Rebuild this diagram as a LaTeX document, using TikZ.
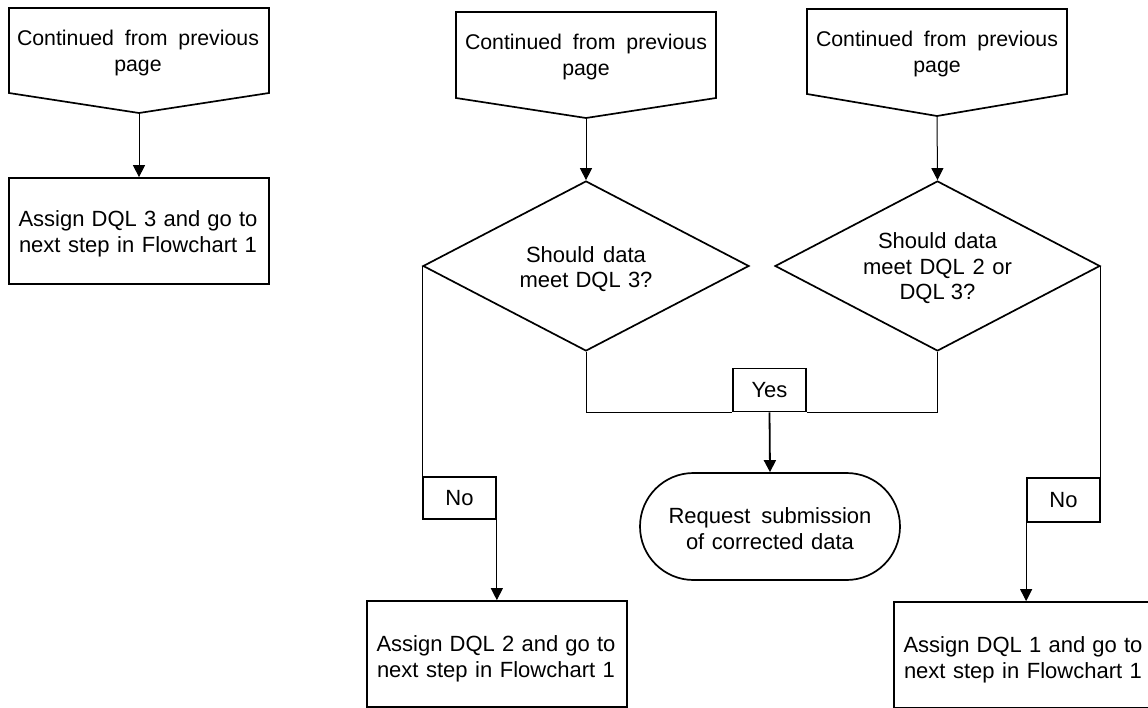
\documentclass[tikz,border=0pt]{standalone}
\usepackage{fontspec}
\setmainfont{Liberation Sans}
\usetikzlibrary{arrows.meta,shapes.geometric,shapes.misc}
\newcommand{\jline}[2]{\makebox[#1][s]{#2}}
\begin{document}
\begin{tikzpicture}[x=1pt,y=-1pt,
  every node/.style={font=\fontsize{22}{25.5}\selectfont},
  shp/.style={draw, line width=1.7pt},
  box/.style={shp, rectangle, minimum width=260pt, minimum height=106pt, inner sep=0pt},
  txt/.style={align=center, inner sep=0pt},
  offtxt/.style={txt, font=\fontsize{21.3}{25.5}\selectfont},
  lab/.style={shp, rectangle, inner sep=0pt},
  dia/.style={shp, diamond, aspect=1.92, minimum width=326pt, minimum height=170pt, inner sep=0pt},
  term/.style={shp, rounded rectangle, minimum width=260pt, minimum height=107pt, inner sep=0pt},
  conn/.style={line width=1pt},
  arr/.style={conn, -{Triangle[length=12pt,width=12pt]}}
]
\useasboundingbox (0,0) rectangle (1148,708);
\clip (0,0) rectangle (1148,708);

% off-page connectors
\draw[shp] (9,8) -- (269,8) -- (269,93) -- (139,113) -- (9,93) -- cycle;
\coordinate (p1) at (139,113);
\node[offtxt] (c1) at (138,53) {\jline{242pt}{Continued from previous}\\page};

\draw[shp] (456,12) -- (716,12) -- (716,98) -- (586,118) -- (456,98) -- cycle;
\coordinate (p2) at (586,118);
\node[offtxt] (c2) at (586,57) {\jline{242pt}{Continued from previous}\\page};

\draw[shp] (807,9) -- (1067,9) -- (1067,94) -- (937,116) -- (807,94) -- cycle;
\coordinate (p3) at (937,116);
\node[offtxt] (c3) at (937,54) {\jline{242pt}{Continued from previous}\\page};

% process boxes
\node[box] (a3) at (139,231) {};
\node[txt] (a3t) at (138,234) {\jline{239pt}{Assign DQL 3 and go to}\\\jline{238pt}{next step in Flowchart 1}};
\node[box] (a2) at (497,654) {};
\node[txt] (a2t) at (496,659) {\jline{239pt}{Assign DQL 2 and go to}\\\jline{238pt}{next step in Flowchart 1}};
\node[box] (a1) at (1024,655) {};
\node[txt] (a1t) at (1023,660) {\jline{239pt}{Assign DQL 1 and go to}\\\jline{238pt}{next step in Flowchart 1}};

% decisions
\node[dia] (d1) at (586,266) {};
\node[txt] (d1t) at (586,269) {\jline{120pt}{Should data}\\\jline{133pt}{meet DQL 3?}};
\node[dia, minimum width=325pt] (d2) at (937.5,266) {};
\node[txt] (d2t) at (937.5,268.5) {\jline{119pt}{Should data}\\\jline{149pt}{meet DQL 2 or}\\DQL 3?};

% labels
\node[lab, minimum width=73pt, minimum height=43pt] (yes) at (769.5,390) {Yes};
\node[lab, minimum width=73pt, minimum height=42pt] (no1) at (459.5,498) {No};
\node[lab, minimum width=73pt, minimum height=44pt] (no2) at (1063.5,500) {No};

% terminal
\node[term] (rq) at (770,526.5) {};
\node[txt] (rqt) at (770,528.5) {\jline{203pt}{Request submission}\\\jline{168pt}{of corrected data}};

% connectors
\draw[arr] (p1) -- (a3.north);
\draw[arr] (p2) -- (d1.north);
\draw[arr] (p3) -- (d2.north);
\draw[conn] (d1.west) -- (no1.north west);
\draw[arr] (no1.south east) -- (no1.south east |- a2.north);
\draw[conn] (d1.south) |- (yes.south west);
\draw[conn] (d2.south) |- (yes.south east);
\draw[arr, line width=1.8pt] (yes.south) -- (rq.north);
\draw[conn] (d2.east) -- (no2.north east);
\draw[arr] (no2.south west) -- (no2.south west |- a1.north);
\end{tikzpicture}
\end{document}
